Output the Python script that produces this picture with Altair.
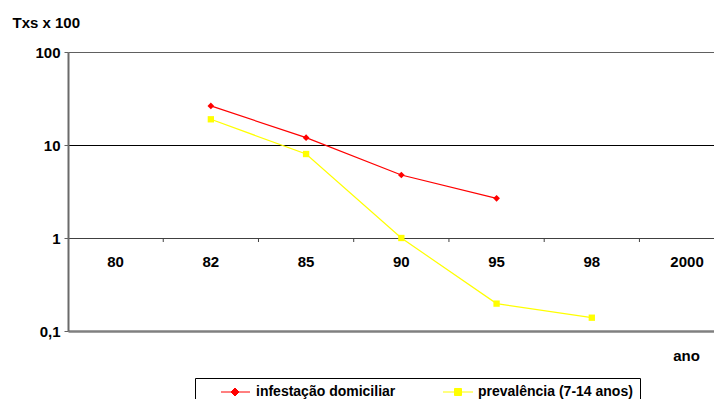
import altair as alt
import pandas as pd

FONT = "Liberation Sans"

categories = ["80", "82", "85", "90", "95", "98", "2000"]
series_names = ["infestação domiciliar", "prevalência (7-14 anos)"]
series_colors = ["#FF0000", "#FFFF00"]
series_shapes = ["diamond", "square"]
series_marker_sizes = [45, 40]
infestacao = [None, 26.3, 12.0, 4.76, 2.67, None, None]
prevalencia = [None, 18.9, 8.0, 1.0, 0.197, 0.139, None]
y_ticks = [0.1, 1, 10, 100]
y_tick_labels = ["0,1", "1", "10", "100"]

rows = []
for name, vals in zip(series_names, [infestacao, prevalencia]):
    for i, v in enumerate(vals):
        if v is not None:
            rows.append({"serie": name, "idx": i, "ano": categories[i], "valor": v})
df = pd.DataFrame(rows)
cat_df = pd.DataFrame({"idx": list(range(len(categories))), "ano": categories})
bound_df = pd.DataFrame({"b": [i + 0.5 for i in range(len(categories) - 1)]})

label_expr = "''"
for v, l in zip(y_ticks, y_tick_labels):
    label_expr = f"datum.value === {v} ? '{l}' : ({label_expr})"

x_scale = alt.Scale(domain=[-0.5, 6.283], nice=False, zero=False)
y_scale = alt.Scale(type="log", domain=[0.1, 100], nice=False)

x_axis = alt.Axis(title="ano", labels=False, ticks=False, domain=False, grid=False,
                  titleX=618, titleY=24, titleBaseline="middle", titleAlign="center",
                  titleFont=FONT, titleFontSize=15, titleFontWeight="bold", titleColor="black")
y_axis = alt.Axis(values=y_ticks, labelExpr=label_expr, labelFont=FONT, labelFontSize=15,
                  labelFontWeight="bold", labelColor="black", labelPadding=4,
                  tickSize=4, tickColor="#606060", domainColor="#6a6a6a", domainWidth=2,
                  grid=True,
                  gridColor={"condition": [
                      {"test": "datum.value === 0.1", "value": "#808080"},
                      {"test": "datum.value === 10", "value": "#000000"},
                      {"test": "datum.value === 1", "value": "#404040"}],
                      "value": "#606060"},
                  gridWidth={"condition": {"test": "datum.value === 0.1", "value": 2.5}, "value": 1.2},
                  title="Txs x 100", titleAngle=0, titleX=-56, titleY=-30, titleAlign="left",
                  titleBaseline="middle", titleFont=FONT, titleFontSize=15,
                  titleFontWeight="bold", titleColor="black")

X = alt.X("idx:Q", scale=x_scale, axis=x_axis)
Y = alt.Y("valor:Q", scale=y_scale, axis=y_axis)

shape_expr = ("datum.index === 0 ? 'M2.4,0H8.2M5.2,-0.8L6,0L5.2,0.8L4.4,0Z' "
              ": 'M2.4,0H8.4M4.7,-0.7H6.1V0.7H4.7Z'")
color_expr = "scale('color', datum.value)"

legend = alt.Legend(
    title=None, orient="none", legendX=127, legendY=326, direction="horizontal",
    columns=2, gridAlign="all", columnPadding=13, padding=7,
    strokeColor="black", fillColor="white", cornerRadius=0,
    labelFont=FONT, labelFontSize=14, labelFontWeight="bold", labelColor="black",
    labelLimit=400, labelOffset=40, symbolSize=100, symbolStrokeWidth=1,
    symbolType=alt.ExprRef(shape_expr),
    symbolFillColor=alt.ExprRef(color_expr),
    symbolStrokeColor=alt.ExprRef(color_expr),
)
color_scale = alt.Scale(domain=series_names, range=series_colors)
color = alt.Color("serie:N", scale=color_scale, legend=legend)
color_nolegend = alt.Color("serie:N", scale=color_scale, legend=None)

lines = alt.Chart(df).mark_line(strokeWidth=1.2).encode(x=X, y=Y, color=color, detail="serie:N")

point_layers = []
for name, shp, sz in zip(series_names, series_shapes, series_marker_sizes):
    point_layers.append(
        alt.Chart(df).transform_filter(alt.datum.serie == name)
        .mark_point(filled=True, size=sz, opacity=1, shape=shp)
        .encode(x=X, y=Y, color=color_nolegend)
    )

ticks = alt.Chart(bound_df).mark_rule(color="#404040", strokeWidth=1, y2Offset=4).encode(
    x=alt.X("b:Q", scale=x_scale, axis=x_axis),
    y=alt.datum(1, scale=y_scale, axis=y_axis),
    y2=alt.datum(1),
)
labels = alt.Chart(cat_df).mark_text(font=FONT, fontSize=15, fontWeight="bold",
                                      color="black", dy=24).encode(
    x=alt.X("idx:Q", scale=x_scale, axis=x_axis),
    y=alt.datum(1, scale=y_scale, axis=y_axis),
    text="ano:N",
)

chart = alt.layer(ticks, lines, *point_layers, labels).properties(
    width=646, height=279,
    autosize=alt.AutoSizeParams(type="none"),
    padding={"left": 60, "top": 44, "right": 0, "bottom": 68},
).configure_view(strokeWidth=0).configure(font=FONT)

chart.save("out.html", embed_options={"renderer": "svg", "actions": False})
